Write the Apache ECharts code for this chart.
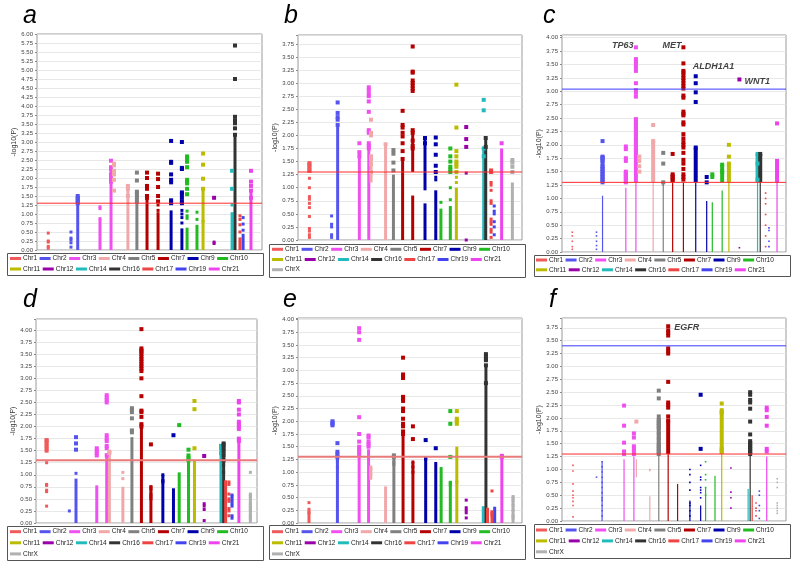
<!DOCTYPE html>
<html><head><meta charset="utf-8">
<script src="https://cdn.jsdelivr.net/npm/echarts@6/dist/echarts.min.js"></script>
<style>html,body{margin:0;padding:0;background:#fff}#c{width:800px;height:568px}</style>
</head><body><div id="c"></div>
<script>
// ---------- DATA ----------
const chromosomes = ['Chr1','Chr2','Chr3','Chr4','Chr5','Chr7','Chr9','Chr10','Chr11','Chr12','Chr14','Chr16','Chr17','Chr19','Chr21','ChrX'];
const yTickStep = 0.25;

// Panel a
const aCol = ['Chr1','Chr2','Chr2','Chr3','Chr3','Chr4','Chr4','Chr5','Chr7','Chr7','Chr9','Chr9','Chr10','Chr10','Chr11','Chr12','Chr14','Chr16','Chr17','Chr19','Chr21'];
const aPos = [5.0,15.1,18.1,28.0,32.9,34.2,40.4,44.4,48.9,53.8,59.6,64.4,66.7,71.1,73.8,78.7,86.7,88.0,90.2,91.6,95.1];
const aPts = [
 [0.47,0.25,0.22,0.1,0.05],[0.5,0.33,0.28,0.2,0.08],[1.5,1.45,1.4,1.35,1.3],[1.2,1.15,0.87],
 [2.48,2.3,2.25,2.1,2.0,1.9],[2.4,2.35,2.2,2.1,1.95,1.65],[1.78,1.7,1.5],[2.15,1.93,1.62,1.55,1.45,1.35],
 [2.15,2.0,1.78,1.7,1.5,1.45],[2.12,1.97,1.75,1.5,1.35,1.25,1.1],[3.03,2.45,2.42,2.1,1.95,1.88,1.38,1.3],
 [3.0,2.28,2.25,1.6,1.55,1.45,1.35,1.3,1.1,1.0,0.9,0.75],[2.6,2.55,2.5,2.45,2.3,1.95,1.9,1.85,1.7,1.55,1.08,0.95,0.88],
 [1.05,0.85],[2.68,2.37,1.98,1.7,0.8],[1.45,0.22,0.18],[2.2,1.7,1.25],[5.68,4.75,3.7,3.6,3.52,3.38,3.2],
 [0.95,0.85,0.7,0.5],[0.9,0.72,0.55],[2.2,1.9,1.78,1.65,1.45]];
const aRuns = [[],[],[[0,1.5]],[[0,0.85]],[[0,2.3]],[],[[0,1.78]],[[0,1.65]],[[0,1.5]],[[0,1.05]],[[0,1.1]],[[0,0.6]],[[0,0.62]],[[0,0.7]],[[0,1.7]],[],[[0,1.05]],[[0,3.2]],[[0,0.35]],[[0,0.45]],[[0,1.65]]];
const aThr = [1.3];

// Panel b
const bCol = ['Chr1','Chr2','Chr2','Chr3','Chr3','Chr4','Chr4','Chr5','Chr7','Chr7','Chr9','Chr9','Chr10','Chr10','Chr11','Chr12','Chr14','Chr16','Chr17','Chr19','Chr21','ChrX'];
const bPos = [5.1,15.0,17.7,27.4,31.6,32.6,39.1,42.6,46.7,51.2,56.7,61.5,63.8,68.0,70.7,75.1,82.9,83.8,86.2,87.6,90.9,95.7];
const bPts = [
 [1.47,1.44,1.4,1.35,1.32,1.18,1.0,0.83,0.78,0.7,0.62,0.45,0.22,0.17,0.1,0.05],[0.46,0.3,0.25,0.1,0.05],
 [2.63,2.43,2.35,2.3,2.2],[1.85,1.68,1.6],[2.92,2.87,2.8,2.75,2.65,2.45,2.1,2.05,1.85,1.8,1.75],
 [2.3,2.05,2.0,1.6,1.55,1.45,1.3],[1.83],[1.72,1.65,1.48,1.33],[2.47,2.2,2.15,2.05,1.98,1.85,1.7,1.55],
 [3.7,3.22,3.2,3.05,3.0,2.95,2.9,2.85,2.1,2.05,1.9,1.8,1.75],[1.95,1.85],[1.96,1.83,1.63,1.42,1.3,1.2,1.15],
 [0.72],[1.75,1.6,1.5,1.4,1.35,1.3,1.0,0.77],[2.97,2.15,1.7,1.6,1.5,1.45,1.4,1.3,1.2,1.1],[2.16,1.93,1.78,1.28,0.0],
 [2.68,2.48,1.75,1.6],[1.95,1.78],[1.33,1.3,1.1,1.05,0.95,0.75,0.7,0.4,0.35,0.3,0.2,0.15,0.05],
 [0.65,0.55,0.5,0.35,0.25,0.1],[1.85],[1.53,1.48,1.4,1.3]];
const bRuns = [[[1.3,1.47]],[],[[0,2.2]],[[0,1.7]],[[0,1.85]],[[1.1,1.6]],[[0,1.8]],[[0,1.25]],[[0,1.55]],[[0,0.85],[1.3,2.1]],[[0,0.7],[0.95,1.95]],[[0,0.95]],[[0,0.6]],[[0,0.65]],[[0,1.0]],[],[[0,1.77]],[[0,1.95]],[],[],[[0,1.75]],[[0,1.1]]];
const bThr = [1.3];

// Panel c
const cCol = ['Chr1','Chr2','Chr2','Chr3','Chr3','Chr4','Chr4','Chr5','Chr7','Chr7','Chr9','Chr9','Chr10','Chr10','Chr11','Chr12','Chr14','Chr16','Chr17','Chr19','Chr21'];
const cPos = [4.6,15.4,18.1,28.5,33.0,34.5,40.7,45.2,49.4,54.2,59.7,64.6,67.1,71.5,74.5,79.2,87.3,88.5,90.9,92.4,96.0];
const cPts = [
 [0.37,0.3,0.2,0.1,0.05],[0.37,0.3,0.2,0.12,0.05],[2.07,1.78,1.75,1.7,1.6,1.55,1.5,1.45,1.4,1.35,1.3],
 [1.97,1.92,1.75,1.7,1.5,1.45,1.4,1.35,1.3],[3.82,3.6,3.55,3.5,3.45,3.38,3.15,3.02,2.97,2.9,2.48,2.4,2.3,2.2,2.1,2.0,1.9,1.8],
 [1.78,1.7,1.6,1.5],[2.37,2.07],[1.85,1.65,1.3,1.25],[1.83,1.45,1.4,1.35],
 [3.82,3.52,3.38,3.35,3.3,3.25,3.2,3.15,3.1,3.05,2.92,2.88,2.62,2.58,2.55,2.42,2.38,2.2,2.12,2.05,2.0,1.95,1.85,1.72,1.65,1.55,1.45,1.4,1.35],
 [3.28,3.15,2.98,2.8,1.95],[1.4,1.3],[1.45,1.4],[1.63,1.5],[2.0,1.78,1.65],[3.22,0.08],[1.83,1.65,1.35],[1.83],
 [1.1,1.0,0.9,0.7,0.5,0.3,0.1],[0.45,0.4,0.2,0.1],[2.4,1.7]];
const cRuns = [[],[],[[0,1.05],[1.3,1.8]],[[0,1.2],[1.3,1.5]],[[0,1.3],[1.3,2.5]],[],[[0,1.3],[1.3,2.07]],[[0,1.3]],[[0,1.3],[1.3,1.45]],[[0,1.3]],[[0,1.3],[1.3,1.95]],[[0,0.95]],[[0,0.93]],[[0,1.15],[1.3,1.63]],[[0,1.3],[1.3,1.65]],[],[[0,1.3],[1.3,1.83]],[[0,1.3],[1.3,1.83]],[],[],[[0,1.3],[1.3,1.7]]];
const cThr = [1.3, 3.04];
const cGenes = ['TP63','MET','ALDH1A1','WNT1'];
const cGenePts = [[33.0,3.82],[54.2,3.82],[59.7,3.28],[79.2,3.22]];

// Panel d
const dCol = ['Chr1','Chr2','Chr2','Chr3','Chr3','Chr4','Chr4','Chr5','Chr7','Chr7','Chr9','Chr9','Chr10','Chr10','Chr11','Chr12','Chr14','Chr16','Chr17','Chr17','Chr19','Chr21','ChrX'];
const dPos = [4.8,15.1,18.1,27.5,32.0,33.2,39.3,43.4,47.7,52.0,57.4,62.2,64.8,69.0,71.7,76.1,83.7,84.9,85.8,87.3,88.7,91.8,97.0];
const dPts = [
 [1.72,1.7,1.65,1.6,1.55,1.5,1.25,0.8,0.78,0.68,0.65,0.35],[0.25],[1.78,1.65,1.52,1.03],[1.55,1.5,1.45,1.4],
 [2.65,2.6,2.55,2.5,1.82,1.75,1.7,1.6,1.55,1.4],[1.48,1.45],[1.05,0.92],[2.38,2.35,2.3,2.17,1.92,1.88],
 [4.02,3.62,3.58,3.55,3.5,3.45,3.4,3.35,3.3,3.25,3.2,3.15,3.0,2.63,2.33,2.3,2.2,2.05,2.0],
 [1.63,0.75,0.7,0.6,0.55,0.5],[1.0,0.88,0.85],[1.82],[2.03],[1.52,1.4,1.35,1.3,1.28],[2.53,2.36,1.55],
 [1.39,0.4,0.35,0.28,0.05],[1.6,1.55,1.45],[1.65,1.62,1.55,1.48,1.4,1.3,1.2,1.05],[0.85,0.8],
 [0.85,0.8,0.6,0.5,0.45,0.3,0.25,0.15],[0.58,0.55,0.5,0.45,0.4,0.35,0.15,0.1],
 [2.53,2.5,2.35,2.25,2.1,2.05,2.0,1.95,1.75,1.7],[1.05,0.6,0.55,0.4,0.35,0.3,0.25,0.15,0.1]];
const dRuns = [[],[],[[0,0.92]],[[0,0.78]],[[0,1.45]],[[0,1.5]],[[0,0.75]],[[0,1.78]],[[0,2.05]],[[0,0.78]],[[0,1.0]],[[0,0.72]],[[0,1.05]],[[0,1.3]],[[0,1.3]],[],[[0,1.6]],[[0,1.6]],[[0,0.88]],[],[],[[0,1.7]],[[0,0.6]]];
const dThr = [1.3];

// Panel e
const eCol = ['Chr1','Chr2','Chr2','Chr3','Chr3','Chr4','Chr4','Chr5','Chr7','Chr7','Chr9','Chr9','Chr10','Chr10','Chr11','Chr12','Chr14','Chr16','Chr17','Chr17','Chr19','Chr21','ChrX'];
const ePos = [4.9,15.4,17.6,27.3,31.5,32.5,39.1,42.8,46.9,51.3,57.0,61.5,63.9,68.0,70.9,75.1,82.7,83.9,84.6,86.6,87.8,91.0,96.0];
const ePts = [
 [0.4,0.27,0.2],[2.0,1.97,1.95,1.92],[1.57,1.4,1.35,1.3,1.25,1.2,1.1],[3.83,3.75,3.6,2.08,1.75,1.6,1.5,1.45,1.4,1.35],
 [1.72,1.68,1.6,1.55,1.5],[1.1,1.05,0.95],[],[1.33,1.3,1.2,1.15],
 [3.25,2.92,2.88,2.85,2.48,2.45,2.4,2.25,2.2,2.05,1.95,1.9,1.8,1.75],[1.9,1.65,1.2,1.1,1.0],[1.63,1.28,1.25],[1.47],
 [],[2.2,1.95,1.3,0.8,0.75],[2.2,2.05,2.0,1.95,0.8],[0.45,0.3,0.25,0.2,0.1],[],[3.32,3.28,3.22,3.2,3.1,2.75],
 [],[0.63,0.22,0.2,0.15],[],[1.32,1.3],[0.52,0.45,0.35,0.25,0.15,0.1]];
const eRuns = [[[0,0.25]],[],[[0,1.4]],[[0,1.3]],[[0,1.45]],[[0.85,1.1]],[[0,0.72]],[[0,1.3]],[[0,1.75]],[[0,1.2]],[[0,1.3]],[[0,1.2]],[[0,1.1]],[[0,0.82]],[[0,1.5]],[],[[0,0.33]],[[0,3.1]],[[0,0.3]],[[0,0.2]],[[0,0.32]],[[0,1.32]],[[0,0.52]]];
const eThr = [1.3];

// Panel f
const fCol = ['Chr1','Chr2','Chr2','Chr3','Chr3','Chr4','Chr4','Chr5','Chr7','Chr7','Chr9','Chr9','Chr10','Chr10','Chr11','Chr12','Chr14','Chr16','Chr17','Chr17','Chr19','Chr21','ChrX'];
const fPos = [4.9,15.4,17.9,27.7,32.1,33.2,39.2,43.2,47.4,51.6,57.1,61.9,64.1,68.3,71.3,75.4,83.1,84.0,84.9,86.6,88.1,91.4,96.1];
const fPts = [
 [1.08,0.97,0.72,0.58,0.5,0.45,0.38,0.3,0.08],[0.85],[1.15,1.05,0.95,0.85,0.75,0.65,0.55,0.45,0.4,0.3,0.2,0.1],
 [2.24,1.85,1.52,1.35,1.3],[1.7,1.62,1.45,1.4,1.35,1.3],[1.93],[1.0,0.98],
 [2.53,2.38,2.03,1.95,1.9,1.85,1.8,1.7,1.6,1.5,1.45,1.4,1.35,1.3],[3.78,3.7,3.65,3.6,3.35,3.3,3.25,2.7,2.3,2.25,2.2,2.03,1.95],
 [],[1.0,0.9,0.75,0.6,0.35,0.3,0.2,0.1],[2.45,1.4,1.08,0.85,0.8,0.65,0.6,0.55,0.45],[1.15,0.9,0.8,0.65,0.5],[],
 [2.28,2.15,2.1,1.4,1.35],[1.03,0.56,0.45,0.25],[],[2.5,2.45,2.35,2.3,2.18,1.93,1.68,1.55,1.5,1.45,1.4,1.35,1.3],
 [],[0.35,0.25,0.2,0.1],[0.58,0.5,0.3,0.2,0.05],[2.2,2.15,2.02,1.85,1.4,1.35],[0.82,0.75,0.65,0.35,0.3,0.25,0.2,0.15]];
const fRuns = [[],[],[[0,1.15]],[[0,1.2]],[[0,1.25]],[[0.85,1.2]],[[0,0.48]],[[0,1.3],[1.3,2.0]],[[0,1.3],[1.3,1.95]],[[0,0.72]],[[0,0.4]],[[0,0.3]],[[0,0.65]],[[0,0.88]],[[0,1.3],[1.3,2.15]],[],[[0,0.62]],[[0,1.3],[1.3,1.55]],[[0,0.5]],[],[],[[0,1.25]],[]];
const fThr = [1.3, 3.40];
const fGenes = ['EGFR'];
const fGenePts = [[47.4,3.78]];

// ---------- STYLE ----------
const FONT = "'Liberation Sans', Arial, sans-serif";
const chrColor = {Chr1:'#f05a5a',Chr2:'#5555ee',Chr3:'#f050f0',Chr4:'#f0a8a8',Chr5:'#808080',Chr7:'#b40000',Chr9:'#0000aa',Chr10:'#22bb22',Chr11:'#bbbb00',Chr12:'#9900aa',Chr14:'#22bbbb',Chr16:'#333333',Chr17:'#ee4444',Chr19:'#4444ee',Chr21:'#ee44ee',ChrX:'#b0b0b0'};
const geneLabel = {
  TP63:{position:'left',distance:2,offset:[0,-2]},
  MET:{position:'left',distance:1.5,offset:[0,-2]},
  ALDH1A1:{position:'right',distance:-3.5,offset:[0,-10]},
  WNT1:{position:'right',distance:4.5,offset:[0,2.5]},
  EGFR:{position:'right',distance:5.5,offset:[0,1.7]}
};
const LEG_FS = 6.5;

const panels = [
 {letter:'a',cols:aCol,pos:aPos,pts:aPts,runs:aRuns,thr:aThr,genes:[],genePts:[],ymax:6,grid:[37,34,225,216],leg:[10,258.5,10.5],box:[7,253,256,22],lt:[23,4],small:false,thickThr:false},
 {letter:'b',cols:bCol,pos:bPos,pts:bPts,runs:bRuns,thr:bThr,genes:[],genePts:[],ymax:3.92,grid:[298,35,224,205],leg:[272,249.3,10.2],box:[269,244,256,33],lt:[284,4],small:false,thickThr:false},
 {letter:'c',cols:cCol,pos:cPos,pts:cPts,runs:cRuns,thr:cThr,genes:cGenes,genePts:cGenePts,ymax:4.05,grid:[562,35,224,217],leg:[536,260,9.8],box:[534,255,256,21],lt:[543,4],small:true,thickThr:false},
 {letter:'d',cols:dCol,pos:dPos,pts:dPts,runs:dRuns,thr:dThr,genes:[],genePts:[],ymax:4.23,grid:[36,319,221,204],leg:[10,531.7,11.1],box:[7,526,256,34],lt:[23,288],small:false,thickThr:true},
 {letter:'e',cols:eCol,pos:ePos,pts:ePts,runs:eRuns,thr:eThr,genes:[],genePts:[],ymax:4.03,grid:[298,318,224,205],leg:[272,531.7,11.1],box:[269,525,256,34],lt:[283,288],small:false,thickThr:true},
 {letter:'f',cols:fCol,pos:fPos,pts:fPts,runs:fRuns,thr:fThr,genes:fGenes,genePts:fGenePts,ymax:3.94,grid:[562,318,224,203],leg:[536,530,10.9],box:[534,524,256,34],lt:[549,288],small:true,thickThr:false}
];

const measureCtx = document.createElement('canvas').getContext('2d');
measureCtx.font = LEG_FS + 'px ' + FONT;

const onTick = v => Math.abs(v / yTickStep - Math.round(v / yTickStep)) < 1e-6;
const option = {animation:false, grid:[], xAxis:[], yAxis:[], series:[], graphic:[]};

panels.forEach((p, i) => {
  option.grid.push({left:p.grid[0], top:p.grid[1], width:p.grid[2], height:p.grid[3], show:true, borderColor:'#9a9a9a', borderWidth:1, backgroundColor:'#fff'});
  option.xAxis.push({type:'value', gridIndex:i, min:0, max:100, show:false});
  option.yAxis.push({type:'value', gridIndex:i, min:0, max:p.ymax, interval:yTickStep,
    name:'-log10(P)', nameLocation:'middle', nameGap:16,
    nameTextStyle:{fontSize:7, color:'#333', fontFamily:FONT},
    axisLine:{show:false}, axisTick:{show:true, length:2, lineStyle:{color:'#888'}},
    axisLabel:{fontSize:6, color:'#444', margin:4, fontFamily:FONT, formatter:v => onTick(v) ? v.toFixed(2) : ''},
    splitLine:{show:true, lineStyle:{color:'#e2e2e2', width:0.8}}});

  const runData = [];
  p.cols.forEach((c, j) => p.runs[j].forEach(r => runData.push([p.pos[j], r[0], r[1], chromosomes.indexOf(c)])));
  option.series.push({type:'custom', xAxisIndex:i, yAxisIndex:i, data:runData, encode:{x:0, y:[1,2]}, clip:true, z:2, silent:true,
    renderItem:(params, api) => {
      const x = api.value(0), y0 = api.value(1), y1 = api.value(2);
      const col = chrColor[chromosomes[api.value(3)]];
      const p0 = api.coord([x, y0]), p1 = api.coord([x, y1]);
      const w = p.small ? (y0 >= 1.29 ? 4 : 1.2) : 3;
      return {type:'rect', shape:{x:p0[0]-w/2, y:p1[1], width:w, height:Math.max(1, p0[1]-p1[1])}, style:{fill:col}};
    }});

  const names = [];
  chromosomes.forEach(ch => {
    if (!p.cols.includes(ch)) return;
    names.push(ch);
    const data = [];
    p.cols.forEach((c, j) => { if (c === ch) p.pts[j].forEach(v => data.push([p.pos[j], v])); });
    option.series.push({type:'scatter', name:ch, xAxisIndex:i, yAxisIndex:i, data, symbol:'rect',
      symbolSize: v => p.small ? (v[1] >= 1.29 ? 4 : 1.6) : (v[1] >= 1.29 ? 4 : 3),
      itemStyle:{color:chrColor[ch], opacity:1}, z:3, silent:true});
  });

  p.thr.forEach((t, k) => {
    option.series.push({type:'line', xAxisIndex:i, yAxisIndex:i, data:[[0,t],[100,t]], symbol:'none', silent:true, z:4,
      lineStyle: k === 0 ? (p.thickThr ? {color:'#e87a7a', width:2} : {color:'#ff2a2a', width:1}) : {color:'#3a3aff', width:1}});
  });

  if (p.genes.length) {
    option.series.push({type:'scatter', xAxisIndex:i, yAxisIndex:i, symbolSize:1, silent:true, z:5,
      itemStyle:{color:'rgba(0,0,0,0)'},
      data:p.genes.map((g, k) => ({value:p.genePts[k], name:g,
        label:Object.assign({show:true, formatter:g, fontSize:9, fontWeight:'bold', fontStyle:'italic', color:'#111', fontFamily:FONT}, geneLabel[g])}))});
  }

  // legend (drawn as graphic items so spacing matches the original)
  const legLeft = p.leg[0], maxRight = legLeft + 250;
  let x = legLeft, row = 0;
  names.forEach(ch => {
    const tw = measureCtx.measureText(ch).width;
    const itemW = 11 + 2 + tw;
    if (x + itemW > maxRight) { row++; x = legLeft; }
    const y = p.leg[1] + row * p.leg[2];
    option.graphic.push({type:'rect', silent:true, shape:{x:x, y:y-1.5, width:11, height:3}, style:{fill:chrColor[ch]}});
    option.graphic.push({type:'text', silent:true, style:{x:x+13, y:y, text:ch, font:LEG_FS + 'px ' + FONT, fill:'#222', verticalAlign:'middle', align:'left'}});
    x += itemW + 2.5;
  });

  option.graphic.push({type:'rect', silent:true, shape:{x:p.box[0]+0.5, y:p.box[1]+0.5, width:p.box[2], height:p.box[3]},
    style:{fill:'none', stroke:'#555', lineWidth:1}});
  option.graphic.push({type:'text', silent:true, style:{x:p.lt[0], y:p.lt[1], text:p.letter,
    font:'italic 25px ' + FONT, fill:'#000', verticalAlign:'top', align:'left'}});
});

const chart = echarts.init(document.getElementById('c'), null, {renderer:'canvas'});
chart.setOption(option);
</script>
</body></html>
